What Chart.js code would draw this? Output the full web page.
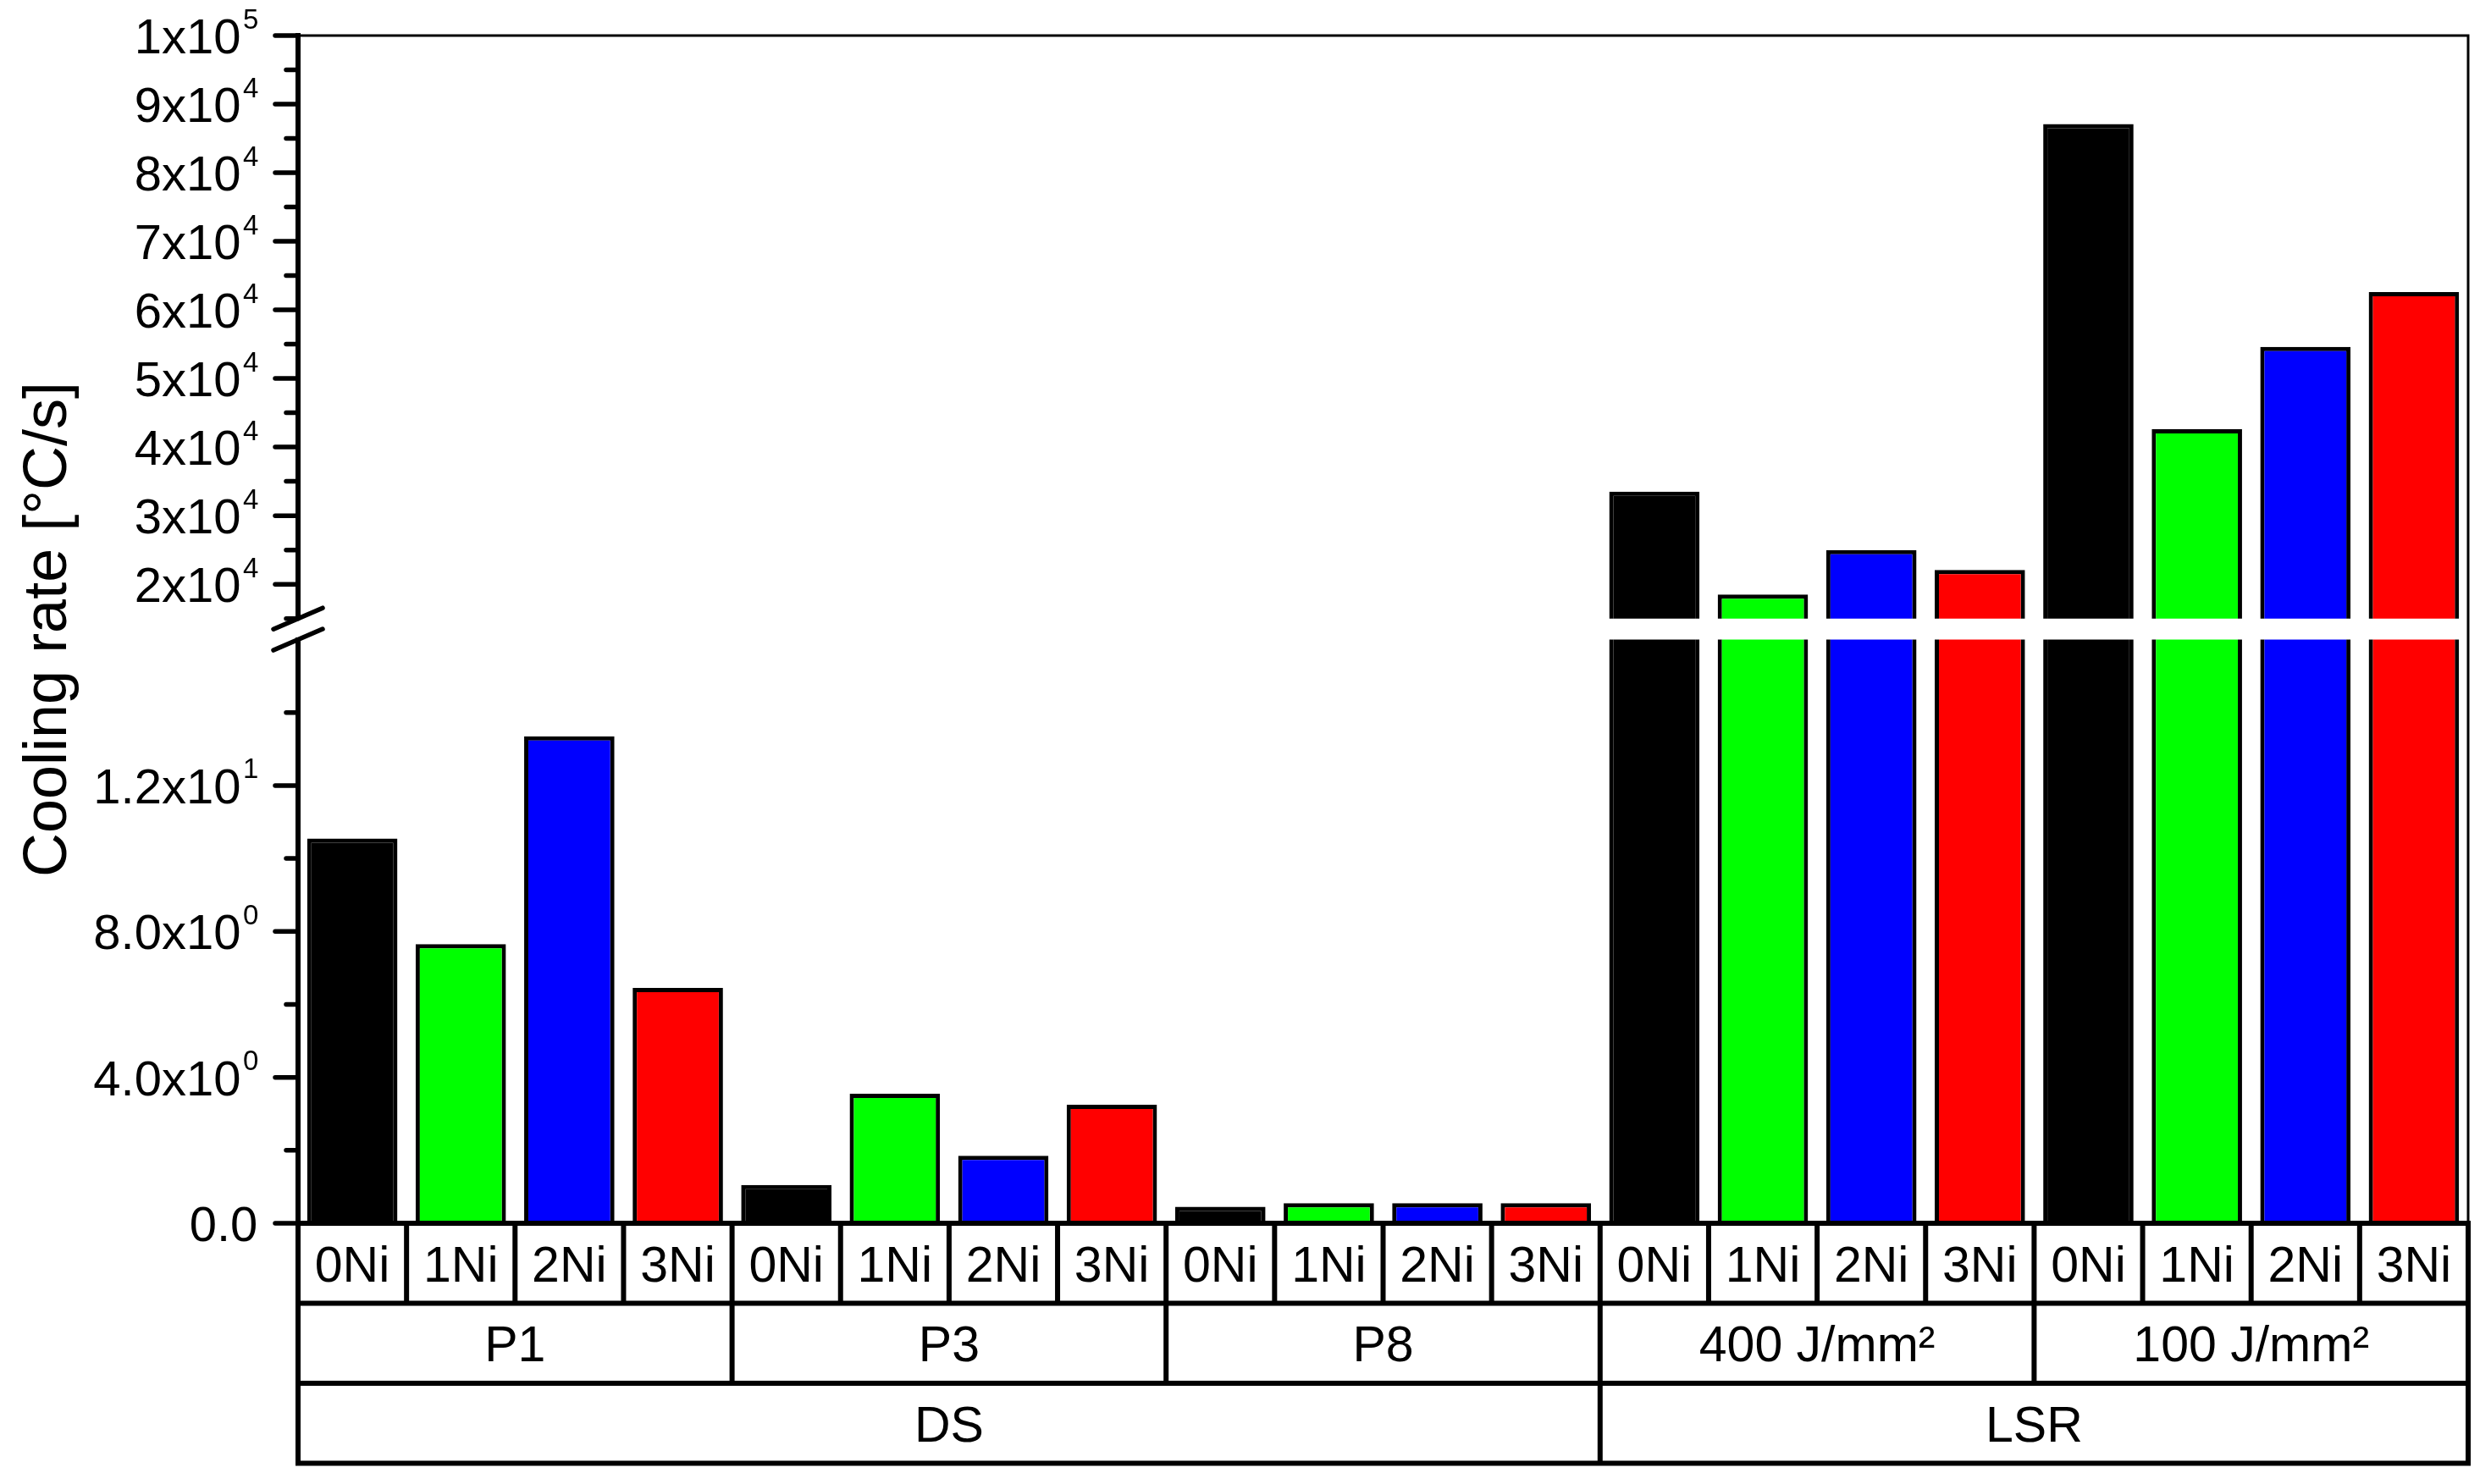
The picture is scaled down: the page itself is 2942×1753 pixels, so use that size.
<!DOCTYPE html>
<html>
<head>
<meta charset="utf-8">
<title>Cooling rate</title>
<script src="https://cdn.jsdelivr.net/npm/chart.js@4.4.1/dist/chart.umd.min.js"></script>
<style>
    html, body { margin: 0; padding: 0; background: #ffffff; }
    #wrap { width: 2942px; height: 1753px; }
</style>
</head>
<body>
<div id="wrap"><canvas id="coolingChart" width="2942" height="1753"></canvas></div>
<script>
// Categories
const nickelLabels = ['0Ni', '1Ni', '2Ni', '3Ni'];
const groupLabels = ['P1', 'P3', 'P8', '400 J/mm²', '100 J/mm²'];
const methodLabels = ['DS', 'LSR'];
const methodGroupCounts = [3, 2];
const nickelColors = ['#000000', '#00ff00', '#0000ff', '#ff0000'];

// Cooling rate [°C/s] per group, in 0Ni..3Ni order
const p1Rates = [10.55, 7.65, 13.35, 6.45];
const p3Rates = [1.05, 3.55, 1.85, 3.25];
const p8Rates = [0.45, 0.55, 0.55, 0.55];
const lsr400Rates = [33500, 18500, 25000, 22100];
const lsr100Rates = [87100, 42600, 54600, 62600];

// Broken y axis: lower and upper segments
const lowerRange = [0, 16];
const upperRange = [15000, 100000];
const lowerMajorTicks = [0, 4, 8, 12];
const lowerMajorLabels = ['0.0', '4.0x10', '8.0x10', '1.2x10'];
const lowerMajorExponents = ['', '0', '0', '1'];
const lowerMinorTicks = [2, 6, 10, 14];
const upperMajorTicks = [20000, 30000, 40000, 50000, 60000, 70000, 80000, 90000, 100000];
const upperMajorLabels = ['2x10', '3x10', '4x10', '5x10', '6x10', '7x10', '8x10', '9x10', '1x10'];
const upperMajorExponents = ['4', '4', '4', '4', '4', '4', '4', '4', '5'];
const upperMinorTicks = [15000, 25000, 35000, 45000, 55000, 65000, 75000, 85000, 95000];

const FONT = "'Liberation Sans', Arial, sans-serif";

// Flattened series (one bar per category)
const categories = groupLabels.flatMap(() => nickelLabels);
const allRates = [p1Rates, p3Rates, p8Rates, lsr400Rates, lsr100Rates].flat();
const upperRates = allRates.map(v => (v >= upperRange[0] ? v : null));
const barColors = allRates.map((v, i) => nickelColors[i % nickelLabels.length]);

// Draws frame, ticks, tick labels, axis break, category table and title
const brokenAxisPlugin = {
    id: 'brokenAxis',
    afterDraw(chart) {
        const { ctx, chartArea: area, scales } = chart;
        const lower = scales.y;
        const upper = scales.yUpper;
        const xs = scales.x;
        const axisX = area.left;
        const catWidth = (xs.right - xs.left) / categories.length;
        const rowHeight = 94.5;

        ctx.save();
        ctx.strokeStyle = '#000';
        ctx.fillStyle = '#000';

        // top and right frame
        ctx.lineWidth = 3;
        ctx.beginPath();
        ctx.moveTo(area.left, area.top);
        ctx.lineTo(area.right, area.top);
        ctx.lineTo(area.right, area.bottom);
        ctx.stroke();

        // tick marks
        ctx.lineCap = 'round';
        ctx.lineWidth = 5.5;
        const drawTick = (scale, v, len) => {
            const py = scale.getPixelForValue(v);
            ctx.beginPath();
            ctx.moveTo(axisX - len, py);
            ctx.lineTo(axisX, py);
            ctx.stroke();
        };
        lowerMajorTicks.forEach(v => drawTick(lower, v, 27));
        lowerMinorTicks.forEach(v => drawTick(lower, v, 14));
        upperMajorTicks.forEach(v => drawTick(upper, v, 27));
        upperMinorTicks.forEach(v => drawTick(upper, v, 14));

        // axis break marks
        [upper.bottom, lower.top].forEach(py => {
            ctx.beginPath();
            ctx.moveTo(axisX - 29, py + 12.5);
            ctx.lineTo(axisX + 29, py - 12.5);
            ctx.stroke();
        });

        // tick labels with exponents
        ctx.textBaseline = 'alphabetic';
        const drawLabel = (scale, v, text, exp) => {
            const py = scale.getPixelForValue(v);
            ctx.font = '58px ' + FONT;
            ctx.textAlign = 'right';
            if (!exp) {
                ctx.fillText(text, axisX - 47.7, py + 21);
                return;
            }
            const mainRight = axisX - 67.5;
            ctx.fillText(text, mainRight, py + 21);
            ctx.font = '33px ' + FONT;
            ctx.textAlign = 'left';
            ctx.fillText(exp, mainRight + 2.4, py - 8.5);
        };
        lowerMajorTicks.forEach((v, i) => drawLabel(lower, v, lowerMajorLabels[i], lowerMajorExponents[i]));
        upperMajorTicks.forEach((v, i) => drawLabel(upper, v, upperMajorLabels[i], upperMajorExponents[i]));

        // category table below the plot
        const top = area.bottom;
        const edge = i => xs.left + i * catWidth;
        ctx.lineCap = 'butt';
        ctx.lineWidth = 6;
        ctx.beginPath();
        for (let r = 1; r <= 3; r++) {
            ctx.moveTo(axisX - 3, top + r * rowHeight);
            ctx.lineTo(area.right + 3, top + r * rowHeight);
        }
        ctx.moveTo(axisX, top);
        ctx.lineTo(axisX, top + 3 * rowHeight);
        ctx.moveTo(area.right, top - 3);
        ctx.lineTo(area.right, top + 3 * rowHeight);
        for (let i = 1; i < categories.length; i++) {
            ctx.moveTo(edge(i), top);
            ctx.lineTo(edge(i), top + rowHeight);
        }
        for (let g = 1; g < groupLabels.length; g++) {
            const e = edge(g * nickelLabels.length);
            ctx.moveTo(e, top + rowHeight);
            ctx.lineTo(e, top + 2 * rowHeight);
        }
        let acc = 0;
        for (let m = 0; m < methodLabels.length - 1; m++) {
            acc += methodGroupCounts[m];
            const e = edge(acc * nickelLabels.length);
            ctx.moveTo(e, top + 2 * rowHeight);
            ctx.lineTo(e, top + 3 * rowHeight);
        }
        ctx.stroke();

        ctx.font = '59px ' + FONT;
        ctx.textAlign = 'center';
        const baseShift = 21.5;
        categories.forEach((label, i) => {
            ctx.fillText(label, xs.getPixelForValue(i), top + rowHeight * 0.5 + baseShift);
        });
        groupLabels.forEach((label, g) => {
            const n = nickelLabels.length;
            const cx = (edge(g * n) + edge((g + 1) * n)) / 2;
            ctx.fillText(label, cx, top + rowHeight * 1.5 + baseShift);
        });
        let start = 0;
        methodLabels.forEach((label, m) => {
            const n = methodGroupCounts[m] * nickelLabels.length;
            const cx = (edge(start) + edge(start + n)) / 2;
            ctx.fillText(label, cx, top + rowHeight * 2.5 + baseShift);
            start += n;
        });

        // y axis title
        ctx.translate(78, (area.top + area.bottom) / 2);
        ctx.rotate(-Math.PI / 2);
        ctx.font = '72px ' + FONT;
        ctx.textAlign = 'center';
        ctx.fillText('Cooling rate [°C/s]', 0, 0);

        ctx.restore();
    }
};

const barStyle = {
    backgroundColor: barColors,
    borderColor: '#000000',
    borderWidth: 5,
    borderSkipped: 'start',
    grouped: false,
    barPercentage: 0.8325,
    categoryPercentage: 1,
    clip: 0
};

const hiddenAxis = {
    grid: { display: false, drawTicks: false },
    ticks: { display: false }
};

const ctx = document.getElementById('coolingChart').getContext('2d');
new Chart(ctx, {
    type: 'bar',
    data: {
        labels: categories,
        datasets: [
            { label: 'lower', data: allRates, yAxisID: 'y', ...barStyle },
            { label: 'upper', data: upperRates, yAxisID: 'yUpper', ...barStyle }
        ]
    },
    options: {
        responsive: false,
        animation: false,
        layout: { padding: { left: 352, right: 27, top: 42, bottom: 308 } },
        plugins: {
            legend: { display: false },
            tooltip: { enabled: false }
        },
        scales: {
            x: {
                type: 'category',
                ...hiddenAxis,
                border: { display: true, width: 6, color: '#000', z: 1 },
                afterFit: s => { s.height = 0; }
            },
            y: {
                type: 'linear',
                position: 'left',
                stack: 'rate',
                stackWeight: 689.6,
                min: lowerRange[0],
                max: lowerRange[1],
                ...hiddenAxis,
                border: { display: true, width: 6, color: '#000', z: 1 },
                afterFit: s => { s.width = 0; }
            },
            yGap: {
                type: 'linear',
                position: 'left',
                stack: 'rate',
                stackWeight: 24.9,
                min: 0,
                max: 1,
                ...hiddenAxis,
                border: { display: false },
                afterFit: s => { s.width = 0; }
            },
            yUpper: {
                type: 'linear',
                position: 'left',
                stack: 'rate',
                stackWeight: 688.8,
                min: upperRange[0],
                max: upperRange[1],
                ...hiddenAxis,
                border: { display: true, width: 6, color: '#000', z: 1 },
                afterFit: s => { s.width = 0; }
            }
        }
    },
    plugins: [brokenAxisPlugin]
});
</script>
</body>
</html>
